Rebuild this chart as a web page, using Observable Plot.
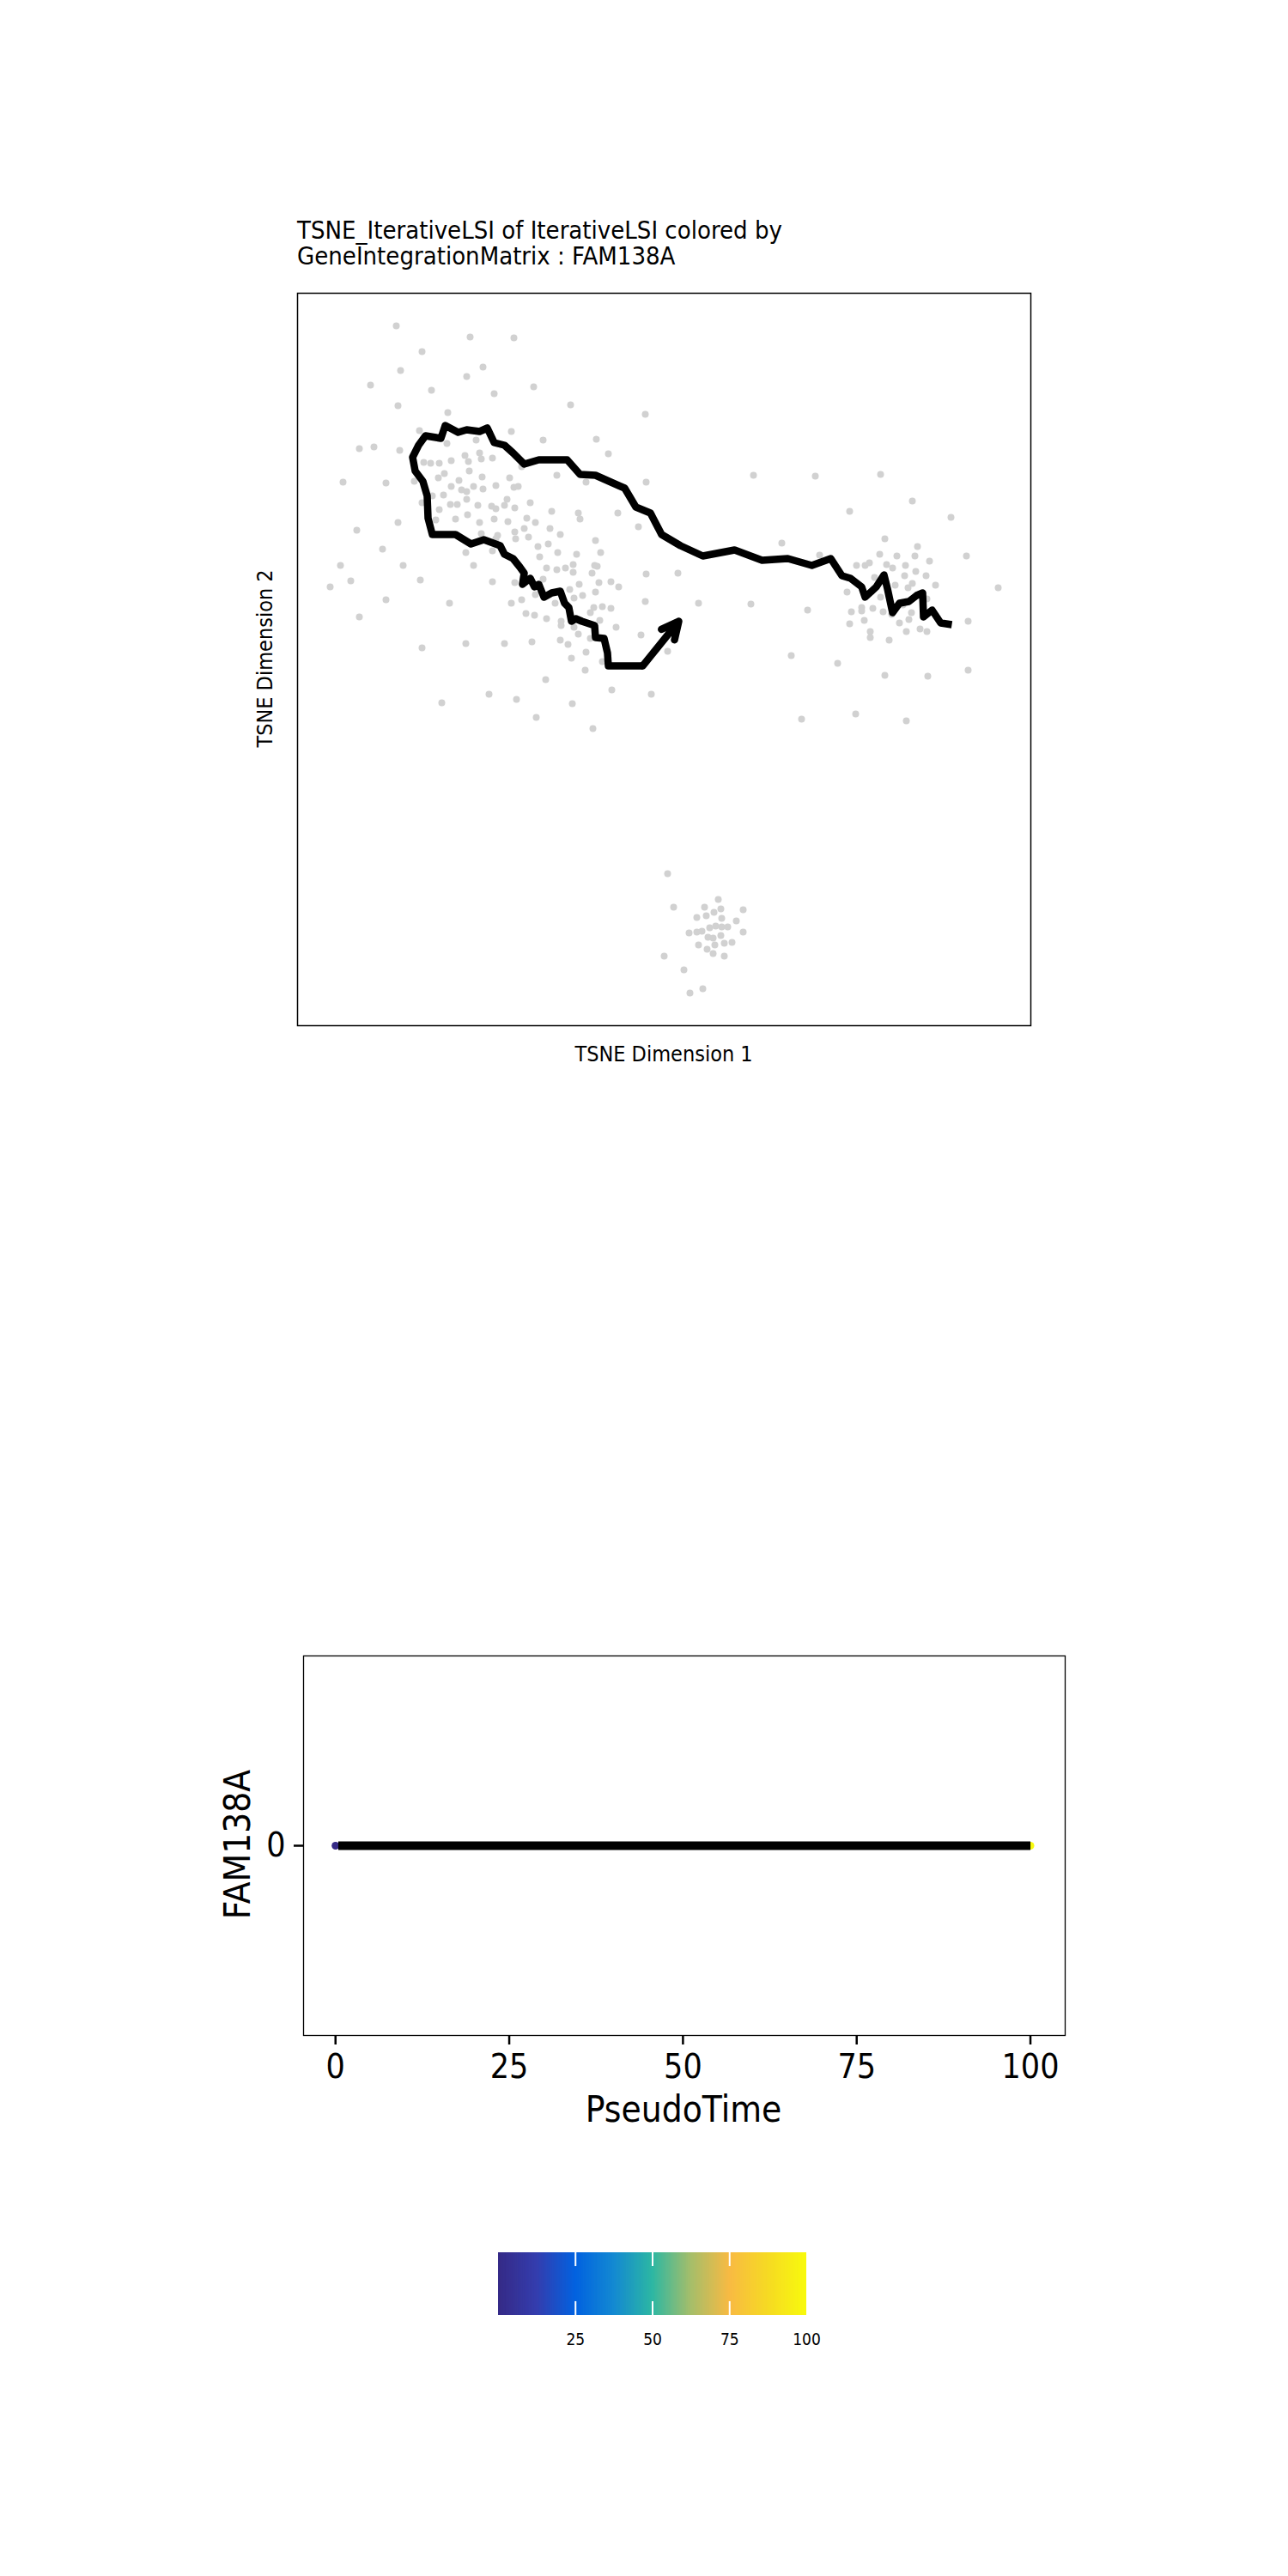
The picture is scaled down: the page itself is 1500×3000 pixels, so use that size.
<!DOCTYPE html>
<html>
<head>
<meta charset="utf-8">
<script src="https://cdn.jsdelivr.net/npm/d3@7"></script>
<script src="https://cdn.jsdelivr.net/npm/@observablehq/plot@0.6"></script>
<style>
  html, body { margin: 0; padding: 0; background: #ffffff; }
  #page { position: relative; width: 1500px; height: 3000px; background: #ffffff; overflow: hidden;
          font-family: "DejaVu Sans Condensed", "DejaVu Sans", sans-serif; color: #000; }
  .lbl { position: absolute; white-space: nowrap; }
</style>
</head>
<body>
<div id="page"></div>
<script>
// ---------------- DATA ----------------
const titleLines = ["TSNE_IterativeLSI of IterativeLSI colored by", "GeneIntegrationMatrix : FAM138A"];
const xLabelTop = "TSNE Dimension 1";
const yLabelTop = "TSNE Dimension 2";
const geneName = "FAM138A";
const xLabelBottom = "PseudoTime";

// cell embedding (TSNE coordinates)
const tsne1 = [
  -31.2,-22.6,-17.5,-28.2,-30.7,-21.1,-23.0,-34.2,-27.1,-19.8,
  -15.2,-31.0,-10.9,-25.2,-2.2,-28.5,-17.8,-25.3,-21.9,-14.1,
  -7.9,-35.5,-33.8,-30.8,-6.5,-21.5,-23.2,-21.3,-20.0,-22.8,
  -24.8,-28.0,-27.2,-26.2,-16.6,-22.7,-25.6,-26.3,-21.2,-18.0,
  -12.5,-37.4,-32.4,-29.1,-9.1,-2.1,-23.9,-24.8,-22.2,-21.1,
  -19.6,-17.5,-17.0,-23.6,-23.0,-27.0,-25.7,-23.0,-18.3,-18.6,
  -15.6,-28.2,-24.9,-24.1,-21.7,-20.1,-19.6,-17.4,-26.2,-13.1,
  -10.0,-9.8,-5.4,-31.0,-26.6,-24.3,-22.9,-21.5,-19.8,-18.2,
  -16.0,-15.0,-35.8,-3.0,-16.3,-13.3,-21.3,-19.4,-17.4,-17.3,
  -15.8,-12.1,-19.6,-8.0,-32.8,-23.1,-20.0,-14.7,-13.5,-12.4,
  -10.2,-7.4,-14.5,-37.7,-30.4,-22.2,-13.7,-12.5,-11.5,-10.6,
  -10.6,-8.1,-7.8,-8.4,-2.1,1.6,-36.5,-28.4,-20.0,-17.4,
  -14.1,-9.9,-7.6,-6.2,-5.3,-38.9,-11.0,-8.0,-9.5,-15.0,
  -32.4,-25.0,-16.6,-17.8,-12.7,-2.2,4.0,-10.5,-8.2,-7.2,
  -6.2,-8.6,-35.5,-16.1,-15.1,-13.7,-12.0,-12.0,-10.5,-7.5,
  -5.6,-10.0,-8.6,-2.7,-28.2,-23.1,-18.6,-15.4,-12.1,-11.2,
  0.4,-10.8,-9.1,-7.2,-9.2,-13.8,-6.1,-1.5,-20.4,-25.9,
  -17.2,-10.7,-14.9,-8.3,
  10.4,17.6,25.2,28.9,21.6,33.4,13.7,25.7,29.5,18.1,
  25.1,27.1,29.2,35.2,30.9,22.4,23.4,23.9,25.9,26.6,
  28.1,29.3,24.5,28.0,30.5,26.9,28.9,28.4,31.6,38.9,
  21.3,25.2,30.6,10.1,16.7,23.0,23.0,24.3,21.8,25.5,
  26.5,27.8,28.8,23.3,21.6,27.4,28.5,35.4,24.0,24.0,
  26.2,28.2,29.8,30.6,14.8,20.2,35.4,25.7,30.7,16.0,
  22.3,28.2,
  0.4,1.1,6.3,4.7,9.2,6.6,5.8,4.9,3.8,6.7,
  8.4,2.9,3.8,4.4,5.3,6.0,6.7,7.4,9.2,5.1,
  5.7,6.6,4.0,5.9,7.0,7.9,5.0,5.7,7.0,0.0,
  2.3,4.5,3.0
];
const tsne2 = [
  38.8,37.5,37.4,35.8,33.6,34.0,32.9,31.9,31.3,30.9,
  31.7,29.5,29.6,28.7,28.5,26.6,26.5,25.1,25.5,25.5,
  25.6,24.5,24.7,24.3,23.9,24.0,23.7,23.3,23.4,23.0,
  23.1,22.9,22.8,22.8,22.4,21.9,21.6,21.1,21.2,21.1,
  21.4,20.6,20.5,20.7,20.6,20.6,20.8,20.1,20.1,19.8,
  20.2,20.0,20.1,19.7,19.5,19.0,19.1,18.6,18.6,17.9,
  18.2,18.2,18.0,18.0,17.9,17.8,17.5,17.6,17.4,17.2,
  17.0,16.3,17.0,15.9,16.2,16.3,16.8,15.9,16.3,16.0,
  16.4,15.9,15.0,15.4,15.2,15.2,14.6,14.4,14.8,14.0,
  14.2,14.5,14.0,13.8,12.8,12.4,12.6,13.1,13.4,12.4,
  12.2,12.4,11.9,10.9,10.9,10.9,10.6,10.4,10.6,11.0,
  10.1,10.9,10.8,10.0,9.9,10.0,9.1,9.2,9.0,8.9,
  9.3,8.7,8.9,9.0,8.4,8.4,8.1,7.8,7.4,7.5,
  6.9,6.5,6.9,6.5,6.5,6.7,6.5,7.1,6.0,6.1,
  5.9,5.4,4.9,5.3,5.1,4.7,4.4,3.9,3.7,4.5,
  3.7,2.9,2.4,2.8,1.3,1.8,1.8,2.0,2.2,1.7,
  0.9,0.1,0.8,-0.3,-1.3,-2.4,-3.6,-4.1,-4.1,-5.1,
  -4.7,-5.2,-6.8,-8.1,
  21.4,21.3,21.5,18.4,17.2,16.5,13.5,14.0,13.1,12.1,
  12.2,12.0,12.0,12.0,11.4,10.9,10.9,11.2,11.0,10.6,
  10.9,10.2,9.5,9.7,9.7,8.6,8.8,8.3,8.6,8.3,
  7.8,7.2,7.0,6.4,5.7,6.0,5.6,5.9,5.5,5.5,
  5.2,6.3,5.4,4.5,4.1,4.2,4.6,4.4,3.2,2.5,
  2.2,3.2,3.5,3.2,0.4,-0.5,-1.3,-1.9,-2.0,-7.0,
  -6.4,-7.2,
  -25.0,-28.9,-28.0,-28.9,-29.2,-29.1,-29.5,-29.9,-30.1,-30.2,
  -30.5,-31.9,-31.8,-31.7,-31.3,-31.1,-31.2,-31.2,-31.8,-32.4,
  -32.5,-32.2,-33.3,-33.3,-33.1,-33.0,-33.8,-34.3,-34.6,-34.6,
  -36.2,-38.4,-38.9
];

// trajectory path (in TSNE coordinates), ending with the arrow
const trajX = [33.5,32.2,31.2,30.2,30.1,29.4,28.5,27.4,26.6,26.0,25.6,24.7,23.4,23.0,21.7,20.7,19.4,17.2,14.4,11.4,8.2,
  4.5,1.9,-0.3,-1.6,-3.3,-4.6,-5.3,-8.0,-9.8,-11.3,
  -14.6,-16.3,-17.6,-18.6,-19.8,-20.6,-21.5,-23.0,-24.0,-25.5,
  -26.0,-27.8,-28.6,-29.3,-29.0,-28.1,-27.6,-27.5,-27.0,-24.3,
  -22.5,-21.0,-19.1,-18.6,-17.6,-16.8,-16.3,-16.5,-15.6,-15.1,
  -14.6,-14.0,-13.1,-12.1,-11.6,-11.1,-10.8,-10.3,-9.6,-9.0,
  -8.1,-8.0,-7.0,-6.6,-6.5,-4.5,-2.5,1.7];
const trajY = [4.0,4.2,5.7,4.9,7.7,7.4,6.7,6.5,5.4,8.2,9.8,8.4,7.2,8.4,9.4,9.7,11.7,10.9,11.7,11.5,12.7,
  12.0,13.2,14.5,17.0,17.7,19.9,20.2,21.4,21.5,23.2,
  23.2,22.7,24.0,24.9,25.2,26.9,26.5,26.7,26.4,27.2,
  25.7,26.0,24.9,23.5,21.9,20.7,19.0,16.4,14.5,14.5,
  13.4,13.9,13.2,12.2,11.7,10.7,10.0,8.7,9.4,8.4,
  8.7,7.2,7.7,7.9,6.5,6.0,4.4,4.7,4.4,4.2,
  3.9,2.5,2.4,0.7,-0.8,-0.8,-0.8,4.4];

// pseudotime panel: cells (pseudotime, expression) and fitted trend
const pseudoTime = [0, 1.3, 3.6, 6.2, 8.9, 11.4, 14.7, 17.1, 20.3, 23.8, 26.5, 29.2, 32.6, 35.1, 38.4, 41.7,
  44.0, 47.3, 50.6, 53.2, 56.8, 59.5, 62.1, 65.4, 68.9, 71.3, 74.6, 77.2, 80.5, 83.7, 86.4, 89.1, 92.6, 95.3, 97.8, 100];
const geneValue = [0, 0, 0, 0, 0, 0, 0, 0, 0, 0, 0, 0, 0, 0, 0, 0,
  0, 0, 0, 0, 0, 0, 0, 0, 0, 0, 0, 0, 0, 0, 0, 0, 0, 0, 0, 0];
const fitTime = [0.4, 100];
const fitValue = [0, 0];

const xTicksBottom = [0, 25, 50, 75, 100];
const yTicksBottom = [0];
const colorbarTicks = [25, 50, 75, 100];

// ArchR "blueYellow" palette
const blueYellow = ["#352A86","#343DAE","#0262E0","#1389D2","#2DB7A3","#A5BE6A","#F8BA43","#F6DA23","#F8FA0D"];
const colorStops = [0, 12.5, 25, 37.5, 50, 62.5, 75, 87.5, 100];

// ---------------- BUILD ----------------
const FONT = '"DejaVu Sans Condensed", "DejaVu Sans", sans-serif';
const page = document.getElementById("page");

const cells = tsne1.map((x, i) => ({x, y: tsne2[i]}));
const traj = trajX.map((x, i) => ({x, y: trajY[i]}));
const n = traj.length;
const arrowSeg = [{x1: traj[n - 2].x, y1: traj[n - 2].y, x2: traj[n - 1].x, y2: traj[n - 1].y}];

const colorScale = {type: "linear", domain: colorStops, range: blueYellow};

const p1 = Plot.plot({
  width: 1500, height: 1300,
  marginLeft: 346, marginRight: 300, marginTop: 341, marginBottom: 106,
  style: {fontFamily: FONT, background: "transparent", color: "black"},
  x: {domain: [-42.7, 42.7], axis: null},
  y: {domain: [-42.7, 42.6], axis: null},
  marks: [
    Plot.dot(cells, {x: "x", y: "y", r: 4, fill: "#D1D1D1", stroke: null}),
    Plot.line(traj.slice(0, n - 1), {x: "x", y: "y", stroke: "black", strokeWidth: 8.5,
      strokeLinejoin: "round", strokeLinecap: "butt"}),
    Plot.arrow(arrowSeg, {x1: "x1", y1: "y1", x2: "x2", y2: "y2", stroke: "black",
      strokeWidth: 8.5, headLength: 40, headAngle: 52}),
    Plot.frame({stroke: "black", strokeWidth: 1.5})
  ]
});

const p2 = Plot.plot({
  width: 1500, height: 700,
  marginLeft: 353, marginRight: 260, marginTop: 128, marginBottom: 130,
  style: {fontFamily: FONT, background: "transparent", color: "black"},
  x: {domain: [-4.6, 105]},
  y: {domain: [-1, 1]},
  color: colorScale,
  marks: [
    Plot.frame({stroke: "black", strokeWidth: 1.3}),
    Plot.dot(pseudoTime.map((t, i) => ({t, v: geneValue[i]})), {x: "t", y: "v", fill: "t", r: 4.5, stroke: null}),
    Plot.line(fitTime.map((t, i) => ({t, v: fitValue[i]})), {x: "t", y: "v", stroke: "black", strokeWidth: 10, strokeLinecap: "butt"}),
    Plot.axisX({ticks: xTicksBottom, tickFormat: d => String(d), tickSize: 11, tickPadding: 11, fontSize: 39, strokeWidth: 2.5, label: null}),
    Plot.axisY({ticks: yTicksBottom, tickFormat: d => String(d), tickSize: 11, tickPadding: 10, fontSize: 39, strokeWidth: 2.5, label: null})
  ]
});

const ramp = d3.range(0, 100, 0.5);
const p3 = Plot.plot({
  width: 1500, height: 200,
  marginLeft: 580, marginRight: 561, marginTop: 63, marginBottom: 64,
  style: {fontFamily: FONT, background: "transparent", color: "black"},
  x: {domain: [0, 100]},
  y: {domain: [0, 1], axis: null},
  color: colorScale,
  marks: [
    Plot.rect(ramp, {x1: d => d, x2: d => Math.min(100, d + 1.2), y1: 0, y2: 1, fill: d => d + 0.25}),
    Plot.ruleX(colorbarTicks.filter(t => t < 100), {y1: 0, y2: 0.22, stroke: "white", strokeWidth: 2}),
    Plot.ruleX(colorbarTicks.filter(t => t < 100), {y1: 0.78, y2: 1, stroke: "white", strokeWidth: 2}),
    Plot.axisX({ticks: colorbarTicks, tickFormat: d => String(d), tickSize: 0, tickPadding: 21, fontSize: 19, label: null})
  ]
});

function placeSvg(node, top) {
  node.style.position = "absolute";
  node.style.left = "0px";
  node.style.top = top + "px";
  node.style.maxWidth = "none";
  page.appendChild(node);
}
placeSvg(p1, 0);
placeSvg(p2, 1800);
placeSvg(p3, 2560);

function text(str, x, y, size, opts = {}) {
  const d = document.createElement("div");
  d.className = "lbl";
  d.textContent = str;
  const tx = opts.anchor === "start" ? "0" : "-50%";
  d.style.left = x + "px";
  d.style.top = y + "px";
  d.style.fontSize = size + "px";
  d.style.lineHeight = size + "px";
  d.style.transform = `translate(${tx}, -50%)` + (opts.rotate ? " rotate(-90deg)" : "");
  page.appendChild(d);
  return d;
}

text(titleLines[0], 346, 268, 29, {anchor: "start"});
text(titleLines[1], 346, 298, 29, {anchor: "start"});
text(xLabelTop, 773, 1226.5, 25);
text(yLabelTop, 308, 767, 25, {rotate: true});
text(geneName, 277, 2148, 42, {rotate: true});
text(xLabelBottom, 796, 2457, 42);
</script>
</body>
</html>
